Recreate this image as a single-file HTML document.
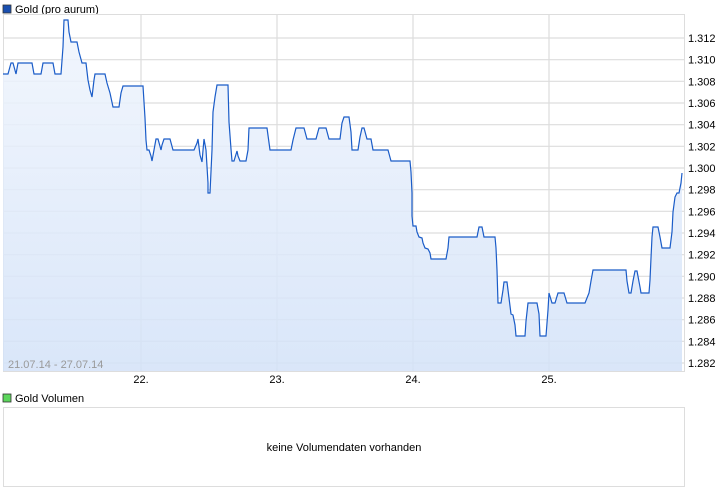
<!DOCTYPE html>
<html><head><meta charset="utf-8"><style>
body{margin:0;background:#fff;width:726px;height:496px;overflow:hidden}
svg{display:block}
text{font-family:"Liberation Sans",sans-serif;font-size:11px}
</style></head><body>
<svg width="726" height="496" xmlns="http://www.w3.org/2000/svg">
<defs><linearGradient id="g" x1="0" y1="0" x2="0" y2="1"><stop offset="0" stop-color="#f0f5fd"/><stop offset="1" stop-color="#d3e2f8"/></linearGradient></defs>
<rect x="3" y="5" width="8" height="8" fill="#1a4fb0" stroke="#333" stroke-width="0.8"/>
<text x="15" y="13">Gold (pro aurum)</text>
<rect x="3.5" y="14.5" width="681" height="357" fill="#fff" stroke="#ddd"/>
<g stroke="#dddddd" stroke-width="1.2">
<line x1="4" x2="684" y1="38" y2="38"/><line x1="4" x2="684" y1="59.7" y2="59.7"/><line x1="4" x2="684" y1="81.3" y2="81.3"/><line x1="4" x2="684" y1="103" y2="103"/><line x1="4" x2="684" y1="124.7" y2="124.7"/><line x1="4" x2="684" y1="146.3" y2="146.3"/><line x1="4" x2="684" y1="168" y2="168"/><line x1="4" x2="684" y1="189.7" y2="189.7"/><line x1="4" x2="684" y1="211.3" y2="211.3"/><line x1="4" x2="684" y1="233" y2="233"/><line x1="4" x2="684" y1="254.7" y2="254.7"/><line x1="4" x2="684" y1="276.3" y2="276.3"/><line x1="4" x2="684" y1="298" y2="298"/><line x1="4" x2="684" y1="319.7" y2="319.7"/><line x1="4" x2="684" y1="341.3" y2="341.3"/><line x1="4" x2="684" y1="363" y2="363"/>
<line x1="141" x2="141" y1="15" y2="371"/><line x1="277" x2="277" y1="15" y2="371"/><line x1="413" x2="413" y1="15" y2="371"/><line x1="549" x2="549" y1="15" y2="371"/>
</g>
<polygon fill="url(#g)" fill-opacity="0.85" points="3,371 3,74 8,74 11,63 13,63 16,74 18,63 32,63 34,74 41,74 43,63 53,63 55,74 61,74 63,47 64,20 68,20 69,32 71,42 77,42 79,52 82,63 86,63 88,80 90,90 92,97 94,80 95,74 105,74 107,83 110,93 113,107 119,107 121,93 123,86 143,86 145,118 146,140 147,150 149,150 151,156 152,161 154,150 156,139 158,139 161,150 162,145 164,139 170,139 173,150 194,150 197,143 198,139 200,155 202,162 204,139 206,150 208,183 208,193 210,193 212,150 213,112 215,97 217,85 228,85 229,122 231,149 232,161 234,161 237,151 238,156 240,161 246,161 248,150 249,128 267,128 270,150 291,150 293,140 296,128 304,128 307,139 316,139 319,128 326,128 329,139 340,139 342,123 344,117 349,117 351,132 352,150 358,150 360,137 362,128 364,128 367,139 371,139 373,150 388,150 391,161 410,161 411,172 412,193 412,216 413,226 416,226 417,232 419,237 422,238 423,243 425,248 428,249 430,253 431,259 446,259 448,248 449,237 477,237 479,227 482,227 484,237 495,237 496,248 497,270 498,303 501,303 503,290 504,282 507,282 509,298 511,314 513,315 515,325 516,336 525,336 526,321 528,303 537,303 539,314 540,336 546,336 548,310 549,293 552,303 555,303 558,293 564,293 567,303 585,303 589,293 591,281 593,270 626,270 627,281 629,293 631,293 633,281 635,271 637,271 640,287 641,293 649,293 650,280 651,258 652,237 653,227 658,227 660,237 662,248 670,248 672,232 673,212 675,197 677,193 679,193 681,183 682,173 682,371"/>
<polyline fill="none" stroke="#1a5cc8" stroke-width="1.2" points="3,74 8,74 11,63 13,63 16,74 18,63 32,63 34,74 41,74 43,63 53,63 55,74 61,74 63,47 64,20 68,20 69,32 71,42 77,42 79,52 82,63 86,63 88,80 90,90 92,97 94,80 95,74 105,74 107,83 110,93 113,107 119,107 121,93 123,86 143,86 145,118 146,140 147,150 149,150 151,156 152,161 154,150 156,139 158,139 161,150 162,145 164,139 170,139 173,150 194,150 197,143 198,139 200,155 202,162 204,139 206,150 208,183 208,193 210,193 212,150 213,112 215,97 217,85 228,85 229,122 231,149 232,161 234,161 237,151 238,156 240,161 246,161 248,150 249,128 267,128 270,150 291,150 293,140 296,128 304,128 307,139 316,139 319,128 326,128 329,139 340,139 342,123 344,117 349,117 351,132 352,150 358,150 360,137 362,128 364,128 367,139 371,139 373,150 388,150 391,161 410,161 411,172 412,193 412,216 413,226 416,226 417,232 419,237 422,238 423,243 425,248 428,249 430,253 431,259 446,259 448,248 449,237 477,237 479,227 482,227 484,237 495,237 496,248 497,270 498,303 501,303 503,290 504,282 507,282 509,298 511,314 513,315 515,325 516,336 525,336 526,321 528,303 537,303 539,314 540,336 546,336 548,310 549,293 552,303 555,303 558,293 564,293 567,303 585,303 589,293 591,281 593,270 626,270 627,281 629,293 631,293 633,281 635,271 637,271 640,287 641,293 649,293 650,280 651,258 652,237 653,227 658,227 660,237 662,248 670,248 672,232 673,212 675,197 677,193 679,193 681,183 682,173"/>
<g fill="#000">
<text x="688" y="42">1.312</text><text x="688" y="63.7">1.310</text><text x="688" y="85.3">1.308</text><text x="688" y="107">1.306</text><text x="688" y="128.7">1.304</text><text x="688" y="150.3">1.302</text><text x="688" y="172">1.300</text><text x="688" y="193.7">1.298</text><text x="688" y="215.3">1.296</text><text x="688" y="237">1.294</text><text x="688" y="258.7">1.292</text><text x="688" y="280.3">1.290</text><text x="688" y="302">1.288</text><text x="688" y="323.7">1.286</text><text x="688" y="345.3">1.284</text><text x="688" y="367">1.282</text>
</g>
<text x="8" y="368" fill="#999">21.07.14 - 27.07.14</text>
<text x="141" y="383" text-anchor="middle">22.</text><text x="277" y="383" text-anchor="middle">23.</text><text x="413" y="383" text-anchor="middle">24.</text><text x="549" y="383" text-anchor="middle">25.</text>
<rect x="3" y="394" width="8" height="8" fill="#5cd65c" stroke="#333" stroke-width="0.8"/>
<text x="15" y="402">Gold Volumen</text>
<rect x="3.5" y="407.5" width="681" height="79" fill="#fff" stroke="#ddd"/>
<text x="344" y="451" text-anchor="middle">keine Volumendaten vorhanden</text>
</svg>
</body></html>
